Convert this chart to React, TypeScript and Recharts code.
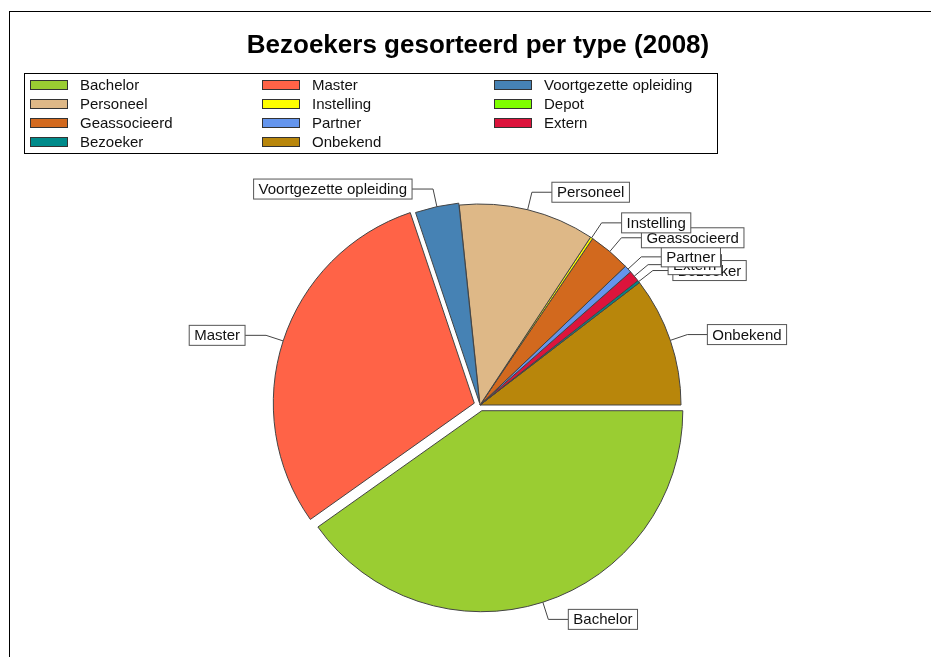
import { PieChart, Pie, Cell } from 'recharts';

const categories = [
  'Bachelor',
  'Master',
  'Voortgezette opleiding',
  'Personeel',
  'Instelling',
  'Depot',
  'Geassocieerd',
  'Partner',
  'Extern',
  'Bezoeker',
  'Onbekend',
];
const visitors = [40.1, 29.6, 3.5, 10.9, 0.2, 0, 3.4, 0.6, 0.9, 0.2, 10.4];
const colors = [
  '#9ACD32',
  '#FF6347',
  '#4682B4',
  '#DEB887',
  '#FFFF00',
  '#7FFF00',
  '#D2691E',
  '#6495ED',
  '#DC143C',
  '#008B8B',
  '#B8860B',
];

// how far a slice is pulled out of the pie (px)
const explode: Record<string, number> = { Bachelor: 6, Master: 6, 'Voortgezette opleiding': 2 };

const FONT = '"Liberation Sans", Arial, sans-serif';
const CX = 472;
const CY = 397;
const R = 201;
const RAD = Math.PI / 180;

const data = categories
  .map((name, i) => ({ name, value: visitors[i], color: colors[i] }))
  .filter((d) => d.value > 0);

let ctx: CanvasRenderingContext2D | null = null;
const textWidth = (s: string) => {
  if (!ctx) ctx = document.createElement('canvas').getContext('2d');
  if (!ctx) return s.length * 8;
  ctx.font = `15px ${FONT}`;
  return ctx.measureText(s).width;
};

// offset of a slice's centre when it is pulled out, along its middle angle
const total = data.reduce((a, d) => a + d.value, 0);
const sliceOffset = (name: string) => {
  let acc = 0;
  for (const d of data) {
    if (d.name === name) {
      const mid = -((acc + d.value / 2) / total) * 360;
      const e = explode[name] || 0;
      return { dx: e * Math.cos(-mid * RAD), dy: e * Math.sin(-mid * RAD) };
    }
    acc += d.value;
  }
  return { dx: 0, dy: 0 };
};

const makeLabel = (only: string) => (p: any) => {
  if (p.name !== only) return null;
  const c = Math.cos(-p.midAngle * RAD);
  const s = Math.sin(-p.midAngle * RAD);
  const sx = p.cx + p.outerRadius * c;
  const sy = p.cy + p.outerRadius * s;
  const ex = p.cx + (p.outerRadius + 18) * c;
  const ey = p.cy + (p.outerRadius + 18) * s;
  const right = c >= 0;
  const tw = textWidth(p.name);
  const bw = tw + 10;
  const bx = right ? ex + 20 : ex - 21 - bw;
  return (
    <g>
      <polyline
        points={`${sx},${sy} ${ex},${ey} ${right ? bx : bx + bw},${ey}`}
        fill="none"
        stroke="#444"
        strokeWidth={1}
      />
      <rect x={bx} y={ey - 10} width={bw} height={20} fill="#fff" stroke="#555" strokeWidth={1} />
      <text x={bx + 5} y={ey + 5} fontSize={15} fontFamily={FONT} fill="#111">
        {p.name}
      </text>
    </g>
  );
};

const Legend = () => (
  <div
    style={{
      position: 'absolute',
      left: 16,
      top: 65,
      width: 692,
      height: 78,
      border: '1px solid #000',
      display: 'grid',
      gridTemplateColumns: '232px 232px 228px',
      gridAutoRows: '19px',
      paddingTop: 1,
      boxSizing: 'content-box',
    }}
  >
    {categories.map((name, i) => (
      <div key={name} style={{ display: 'flex', alignItems: 'center', height: 19 }}>
        <span
          style={{
            display: 'inline-block',
            marginLeft: 5,
            width: 36,
            height: 8,
            background: colors[i],
            border: '1px solid #333',
          }}
        />
        <span style={{ marginLeft: 12, fontFamily: FONT, fontSize: 15, color: '#111', lineHeight: '19px' }}>
          {name}
        </span>
      </div>
    ))}
  </div>
);

export default function App() {
  // one pie per slice so a pulled-out slice can have its own centre; drawn in reverse so labels stack like the original
  const order = [...data].reverse();
  return (
    <div style={{ position: 'relative', width: 915, height: 640, overflow: 'hidden' }}>
      <div
        style={{
          position: 'fixed',
          left: 9,
          top: 11,
          width: 922,
          height: 646,
          borderTop: '1px solid #000',
          borderLeft: '1px solid #000',
        }}
      />
      <div
        style={{
          position: 'absolute',
          left: 0,
          top: 21,
          width: 940,
          textAlign: 'center',
          fontFamily: FONT,
          fontWeight: 'bold',
          fontSize: 26,
          lineHeight: '30px',
          color: '#000',
        }}
      >
        Bezoekers gesorteerd per type (2008)
      </div>
      <Legend />
      <div style={{ position: 'absolute', left: 0, top: 0 }}>
        <PieChart width={915} height={640} margin={{ top: 0, right: 0, bottom: 0, left: 0 }}>
          {order.map((slice) => {
            const { dx, dy } = sliceOffset(slice.name);
            return (
              <Pie
                key={slice.name}
                data={data}
                dataKey="value"
                nameKey="name"
                cx={CX + dx}
                cy={CY + dy}
                outerRadius={R}
                startAngle={0}
                endAngle={-360}
                isAnimationActive={false}
                labelLine={false}
                label={makeLabel(slice.name)}
              >
                {data.map((d) => (
                  <Cell
                    key={d.name}
                    fill={d.name === slice.name ? d.color : 'none'}
                    stroke={d.name === slice.name ? '#444' : 'none'}
                    strokeWidth={1}
                  />
                ))}
              </Pie>
            );
          })}
        </PieChart>
      </div>
    </div>
  );
}
